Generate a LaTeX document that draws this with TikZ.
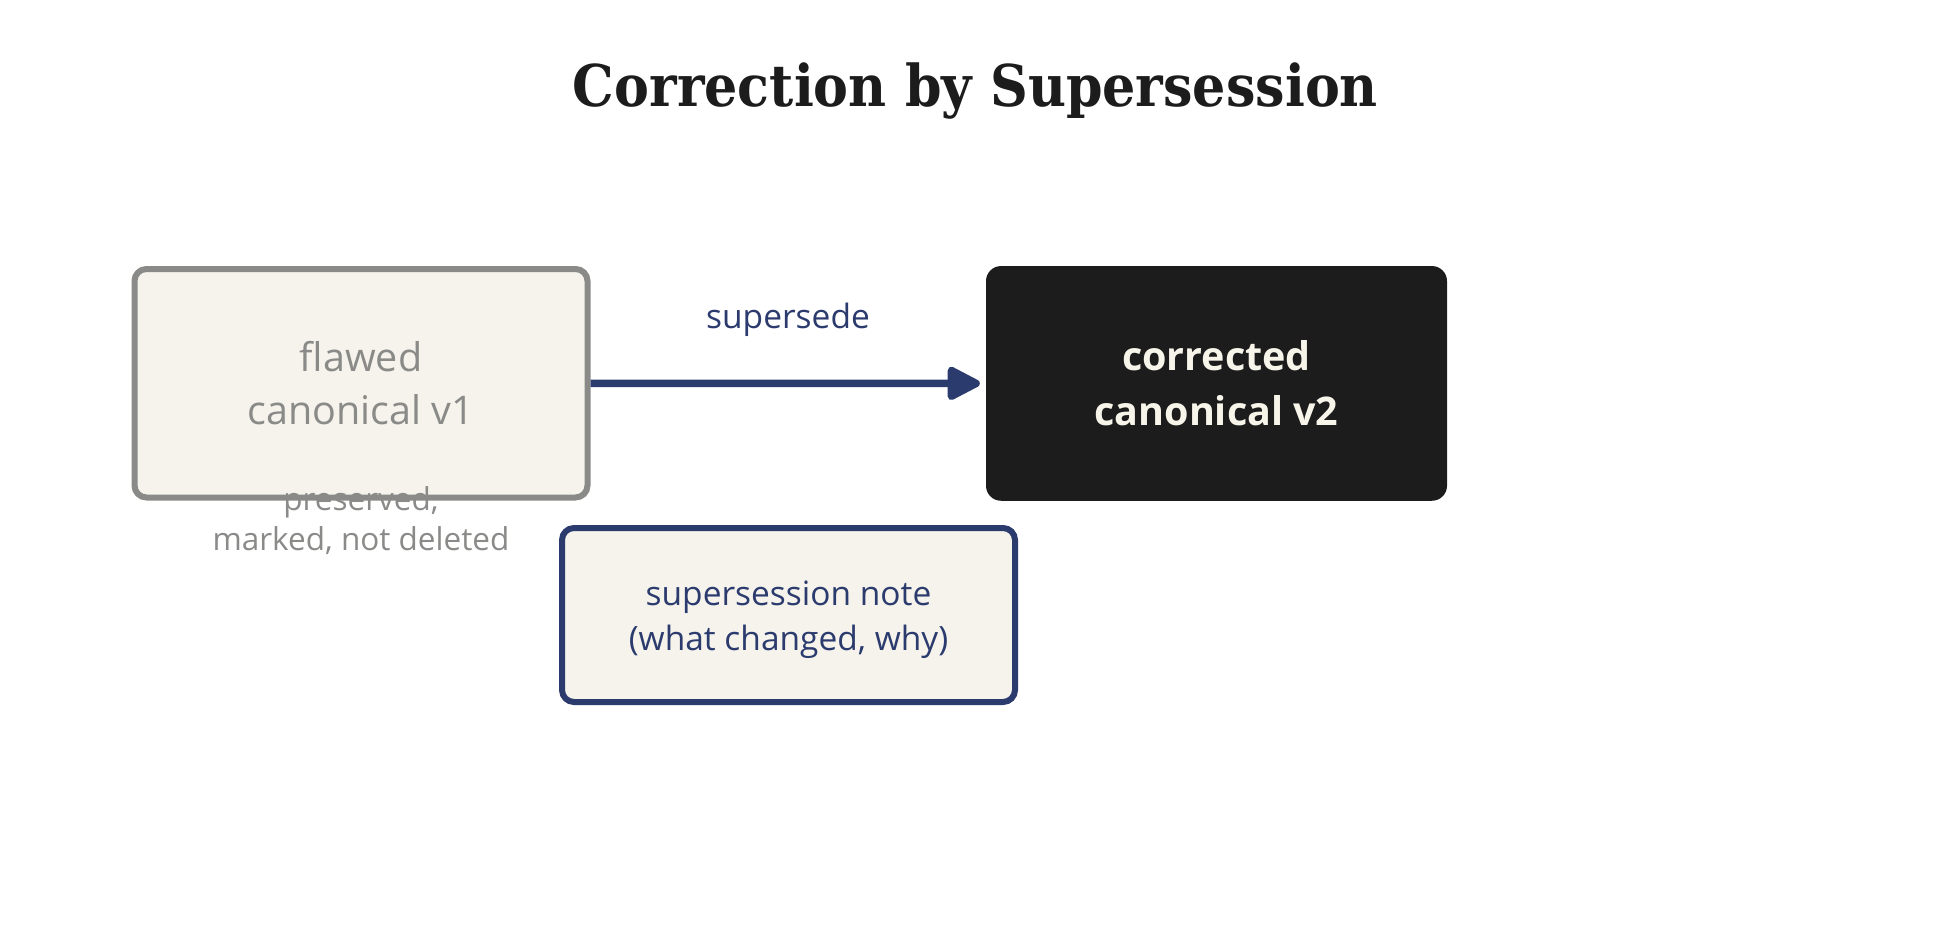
\documentclass[tikz,border=0pt]{standalone}
\usepackage{fontspec}
\setmainfont{Open Sans}
\newfontfamily\titlefont{DejaVu Serif}
\usetikzlibrary{arrows.meta}
\definecolor{navy}{HTML}{2C3B6E}
\definecolor{cream}{HTML}{F5F3EC}
\definecolor{muted}{HTML}{8A8A88}
\definecolor{ink}{HTML}{1C1C1C}
\definecolor{creamtext}{HTML}{F7F4EA}
\begin{document}
\begin{tikzpicture}[x=1pt,y=-1pt,
  box/.style={rounded corners=12pt, align=center, inner sep=0pt},
  oldbox/.style={box, draw=muted, line width=6pt, fill=cream, text=muted,
    minimum width=453pt, minimum height=228.5pt, font=\fontsize{39.5}{53}\selectfont},
  newbox/.style={box, fill=ink, text=creamtext, rounded corners=15pt,
    minimum width=461pt, minimum height=234.7pt, font=\fontsize{39.5}{55}\selectfont\bfseries},
  notebox/.style={box, draw=navy, line width=6pt, fill=cream, text=navy,
    minimum width=453pt, minimum height=174pt, font=\fontsize{33.5}{45}\selectfont},
  lab/.style={text=navy, font=\fontsize{33.5}{36}\selectfont, inner sep=0pt},
  caption/.style={text=muted, align=center, inner sep=0pt, font=\fontsize{31.5}{40}\selectfont},
  conn/.style={draw=navy, line width=7.5pt, -{Triangle[length=37pt,width=36pt,round]}, shorten >=6pt}
]
\useasboundingbox (0,0) rectangle (1950,928);
\node[anchor=base, text=ink, inner sep=0pt] (title) at (975.5,106.7)
  {\titlefont\bfseries\fontsize{57.6}{60}\selectfont\resizebox{805pt}{\height}{Correction by Supersession}};
\node[oldbox] (v1) at (361,383.25) {flawed\\canonical v1};
\node[newbox] (v2) at (1216.5,383.4) {corrected\\canonical v2};
\node[notebox] (note) at (788.5,615) {\rule{0pt}{34pt}supersession note\\(what changed, why)};
\draw[conn] (v1.east) -- (v2.west);
\node[lab, anchor=base] (lbl) at (788,328) {supersede};
\node[caption] (cap) at (361,520.5) {preserved,\\marked, not deleted};
\end{tikzpicture}
\end{document}
